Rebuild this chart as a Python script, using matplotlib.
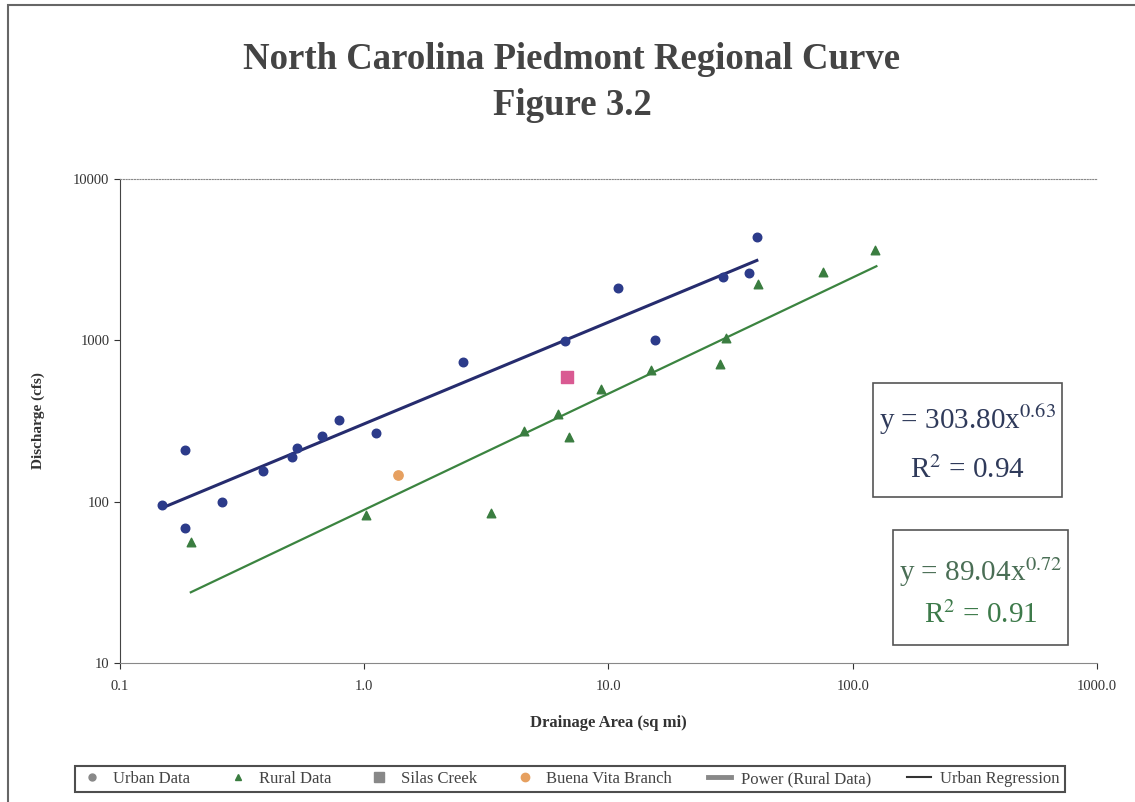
import matplotlib.pyplot as plt
from matplotlib.lines import Line2D
from matplotlib.patches import Rectangle
import numpy as np

plt.rcParams['font.family'] = ['Liberation Serif', 'DejaVu Serif']

urban_area = [0.149, 0.185, 0.185, 0.262, 0.385, 0.506, 0.53, 0.672, 0.788, 1.117,
              2.54, 6.64, 10.9, 15.5, 29.4, 37.6, 40.5]
urban_q = [96, 210, 69, 100, 155, 190, 216, 256, 322, 268,
           738, 995, 2124, 1000, 2483, 2630, 4400]

rural_area = [0.195, 1.016, 3.3, 4.51, 6.2, 6.89, 9.3, 14.9, 28.6, 30.3, 40.9, 75.5, 123]
rural_q = [56, 83, 85.5, 275, 351, 253, 501, 658, 716, 1041, 2250, 2668, 3650]

silas_area = [6.78]
silas_q = [596]
buena_area = [1.374]
buena_q = [147]

urban_coef, urban_exp = 303.80, 0.63
rural_coef, rural_exp = 89.04, 0.72
urban_fit_range = (0.149, 40.5)
rural_fit_range = (0.195, 125)

xticks = [0.1, 1, 10, 100, 1000]
xtick_labels = ['0.1', '1.0', '10.0', '100.0', '1000.0']
yticks = [10, 100, 1000, 10000]
ytick_labels = ['10', '100', '1000', '10000']

fig = plt.figure(figsize=(11.35, 8.02), dpi=100)
ax = fig.add_axes([0.1057, 0.1733, 0.8608, 0.6035])

blue = '#2c3b8a'
green = '#3a7d40'

ax.scatter(urban_area, urban_q, s=38, color=blue, zorder=3)
ax.scatter(rural_area, rural_q, s=38, marker='^', color=green, zorder=3)
ax.scatter(silas_area, silas_q, s=70, marker='s', color='#d95a92', zorder=3)
ax.scatter(buena_area, buena_q, s=45, color='#e6a060', zorder=3)

xu = np.logspace(np.log10(urban_fit_range[0]), np.log10(urban_fit_range[1]), 50)
ax.plot(xu, urban_coef * xu ** urban_exp, color='#262c6e', lw=2.2, zorder=2)
xr = np.logspace(np.log10(rural_fit_range[0]), np.log10(rural_fit_range[1]), 50)
ax.plot(xr, rural_coef * xr ** rural_exp, color='#3b8440', lw=1.6, zorder=2)

ax.set_xscale('log')
ax.set_yscale('log')
ax.set_xlim(0.1, 1000)
ax.set_ylim(10, 10000)
ax.set_xticks(xticks)
ax.set_xticklabels(xtick_labels)
ax.set_yticks(yticks)
ax.set_yticklabels(ytick_labels)
ax.minorticks_off()
ax.tick_params(labelsize=10.5, colors='#333333', length=4)
ax.tick_params(axis='x', pad=8)

ax.spines['right'].set_visible(False)
ax.spines['top'].set_linestyle((0, (1, 1.5)))
ax.spines['top'].set_color('#888888')
ax.spines['left'].set_color('#444444')
ax.spines['bottom'].set_color('#888888')

ax.set_ylabel('Discharge (cfs)', fontsize=11, fontweight='bold', color='#333333', labelpad=20)
ax.set_xlabel('Drainage Area (sq mi)', fontsize=12, fontweight='bold', color='#333333', labelpad=16)

fig.text(0.504, 0.926, 'North Carolina Piedmont Regional Curve', ha='center', va='center',
         fontsize=26.5, fontweight='bold', color='#444444')
fig.text(0.504, 0.869, 'Figure 3.2', ha='center', va='center',
         fontsize=26.5, fontweight='bold', color='#444444')

# equation boxes
fig.patches.append(Rectangle((873 / 1135, 1 - 497 / 802), 189 / 1135, 114 / 802,
                             transform=fig.transFigure, fill=False, ec='#555555', lw=1.2))
fig.text(0.852, 0.477, r'y = 303.80x$^{0.63}$', ha='center', va='center', fontsize=21,
         color='#2f3a5a', math_fontfamily='stix')
fig.text(0.852, 0.414, r'R$^{2}$ = 0.94', ha='center', va='center', fontsize=21,
         color='#2f3a5a', math_fontfamily='stix')
fig.patches.append(Rectangle((893 / 1135, 1 - 645 / 802), 175 / 1135, 115 / 802,
                             transform=fig.transFigure, fill=False, ec='#555555', lw=1.2))
fig.text(0.864, 0.286, r'y = 89.04x$^{0.72}$', ha='center', va='center', fontsize=21,
         color='#4a6e55', math_fontfamily='stix')
fig.text(0.864, 0.233, r'R$^{2}$ = 0.91', ha='center', va='center', fontsize=21,
         color='#3d7a4a', math_fontfamily='stix')

# outer frame
fig.patches.append(Rectangle((8 / 1135, -0.01), 1.02, 1 - 5 / 802 + 0.01,
                             transform=fig.transFigure, fill=False, ec='#666666', lw=1.5))

handles = [
    Line2D([], [], ls='', marker='o', color='#888888', ms=5),
    Line2D([], [], ls='', marker='^', color=green, ms=5),
    Line2D([], [], ls='', marker='s', color='#888888', ms=7),
    Line2D([], [], ls='', marker='o', color='#e6a060', ms=6),
    Line2D([], [], color='#888888', lw=3.5),
    Line2D([], [], color='#333333', lw=1.5),
]
labels = ['Urban Data', 'Rural Data', 'Silas Creek', 'Buena Vita Branch',
          'Power (Rural Data)', 'Urban Regression']
leg = fig.legend(handles, labels, loc='center', ncol=6, mode='expand',
                 bbox_to_anchor=(75 / 1135, 1 - 796 / 802, 990 / 1135, 34 / 802),
                 fontsize=12, frameon=True, fancybox=False, handlelength=1.4,
                 handletextpad=0.6, columnspacing=0.8, borderaxespad=0, borderpad=0.3)
leg.get_frame().set_edgecolor('#222222')
leg.get_frame().set_linewidth(1.5)
for t in leg.get_texts():
    t.set_color('#444444')

fig.savefig('out.png', dpi=100)
